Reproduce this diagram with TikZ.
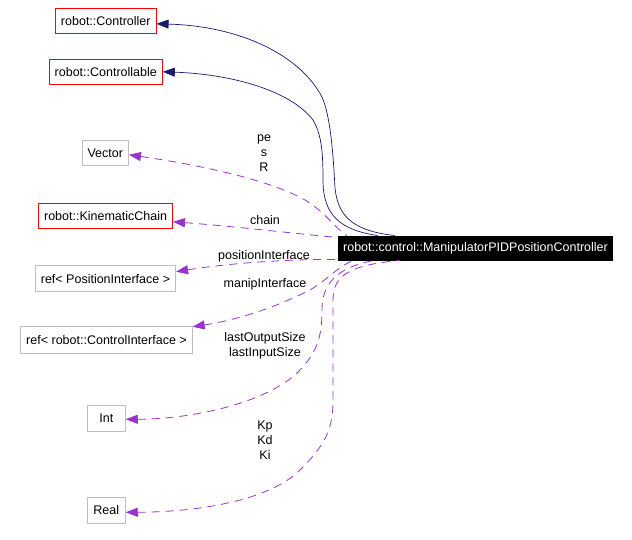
\documentclass[tikz,border=0pt]{standalone}
\usepackage{fontspec}
\setmainfont{Liberation Sans}
\usetikzlibrary{arrows.meta}
\definecolor{edgenavy}{HTML}{191970}
\definecolor{edgepurple}{HTML}{9A32CD}
\definecolor{boxgray}{HTML}{BFBFBF}
\begin{document}
\begin{tikzpicture}[x=1pt,y=-1pt,
 every node/.style={font=\fontsize{12.5}{15}\selectfont},
 cls/.style={draw, line width=0.9pt, minimum height=25pt, minimum width=38pt, inner xsep=5.5pt, inner ysep=0pt},
 redbox/.style={cls, draw=red},
 graybox/.style={cls, draw=boxgray},
 mainbox/.style={cls, fill=black, text=white, draw=black, minimum height=24pt, inner xsep=5pt},
 inherit/.style={draw=edgenavy, line width=0.7pt, {Triangle[length=12pt,width=9pt]}-},
 usage/.style={draw=edgepurple, line width=0.8pt, dash pattern=on 8pt off 6pt, {Triangle[length=12pt,width=9pt]}-},
 lbl/.style={align=center, inner sep=0pt}]
\useasboundingbox[fill=white] (0,0) rectangle (632,540);

\node[redbox] (ctl) at (105.8,20.8) {robot::Controller};
\node[redbox] (cbl) at (105.8,71.8) {robot::Controllable};
\node[graybox] (vec) at (105.3,152.8) {Vector};
\node[redbox] (kc) at (105.6,215.8) {robot::KinematicChain};
\node[graybox, minimum height=26pt] (pi) at (105.5,278.7) {ref< PositionInterface >};
\node[graybox, minimum height=27pt] (pci) at (106.5,339.7) {ref< robot::ControlInterface >};
\node[graybox, minimum height=26pt] (int) at (106.3,418.3) {Int};
\node[graybox, minimum height=26pt] (real) at (106.3,510.3) {Real};
\node[mainbox] (main) at (475.5,248) {robot::control::ManipulatorPIDPositionController};

% inheritance
\draw[inherit] ([yshift=-3pt]ctl.east) .. controls (240,26) and (300,55) .. (322,97)
  .. controls (330,115) and (333,150) .. (335,188)
  .. controls (338,218) and (355,231) .. ([xshift=57pt]main.north west);
\draw[inherit] (cbl.east) .. controls (230,74) and (290,90) .. (313,120)
  .. controls (322,135) and (323,155) .. (323,180)
  .. controls (323,215) and (340,230) .. ([xshift=40pt]main.north west);

% usage
\draw[usage] ([yshift=-2pt]vec.east) .. controls (200,165) and (270,180) .. (305,200)
  .. controls (325,212) and (332,225) .. ([xshift=9pt]main.north west);
\draw[usage] ([yshift=-6pt]kc.east) .. controls (230,226) and (290,233) .. ([yshift=-2pt]main.north west);
\draw[usage] ([yshift=7pt]pi.east) .. controls (230,263) and (290,259) .. ([yshift=1pt]main.south west);
\draw[usage] ([yshift=-1pt]pci.north east) .. controls (250,318) and (290,300) .. (310,290)
  .. controls (330,278) and (338,266) .. ([xshift=16pt]main.south west);
\draw[usage] ([yshift=-1pt]int.east) .. controls (200,419) and (270,400) .. (298,372)
  .. controls (318,352) and (322,335) .. (322,310)
  .. controls (322,285) and (335,268) .. ([xshift=36pt]main.south west);
\draw[usage] ([yshift=-2pt]real.east) .. controls (200,512) and (270,500) .. (300,470)
  .. controls (325,445) and (333,430) .. (333,400) -- (333,300)
  .. controls (333,275) and (350,265) .. ([xshift=62pt]main.south west);

% labels
\node[lbl] (lvec) at (264,153) {pe\\s\\R};
\node[lbl] (lkc) at (265,220.5) {chain};
\node[lbl] (lpi) at (264,256.5) {positionInterface};
\node[lbl] (lpci) at (265,284) {manipInterface};
\node[lbl] (lint) at (265,346) {lastOutputSize\\lastInputSize};
\node[lbl] (lreal) at (265,440) {Kp\\Kd\\Ki};
\end{tikzpicture}
\end{document}
